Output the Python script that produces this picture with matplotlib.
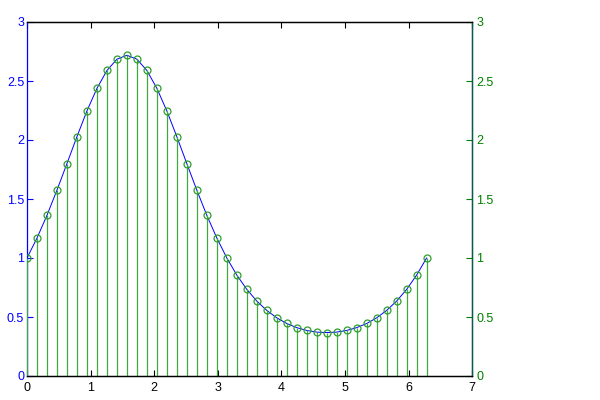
import matplotlib
matplotlib.use("Agg")
import matplotlib.pyplot as plt

plt.rcParams["font.family"] = ["Liberation Sans", "DejaVu Sans"]

# sample positions (0 .. 2*pi, 41 points) and values
x_vals = [0.000, 0.157, 0.314, 0.471, 0.628, 0.785, 0.942, 1.100, 1.257, 1.414,
          1.571, 1.728, 1.885, 2.042, 2.199, 2.356, 2.513, 2.670, 2.827, 2.985,
          3.142, 3.299, 3.456, 3.613, 3.770, 3.927, 4.084, 4.241, 4.398, 4.555,
          4.712, 4.869, 5.027, 5.184, 5.341, 5.498, 5.655, 5.812, 5.969, 6.126,
          6.283]
y_vals = [1.000, 1.169, 1.362, 1.575, 1.800, 2.028, 2.246, 2.438, 2.589, 2.685,
          2.718, 2.685, 2.589, 2.438, 2.246, 2.028, 1.800, 1.575, 1.362, 1.169,
          1.000, 0.855, 0.734, 0.635, 0.556, 0.493, 0.445, 0.410, 0.386, 0.372,
          0.368, 0.372, 0.386, 0.410, 0.445, 0.493, 0.556, 0.635, 0.734, 0.855,
          1.000]

x_ticks = [0, 1, 2, 3, 4, 5, 6, 7]
y_ticks = [0, 0.5, 1, 1.5, 2, 2.5, 3]
y_ticklabels = ["0", "0.5", "1", "1.5", "2", "2.5", "3"]

BLUE = "#0000ff"
GREEN = "#008000"

fig = plt.figure(figsize=(6, 4), dpi=100, facecolor="white")
ax1 = fig.add_axes([0.045, 0.06, 0.742, 0.885])
ax2 = ax1.twinx()

# left axis: blue line
ax1.plot(x_vals, y_vals, color=BLUE, lw=0.7, zorder=3)
ax1.set_xlim(0, 7)
ax1.set_ylim(0, 3)
ax1.set_xticks(x_ticks)
ax1.set_yticks(y_ticks)
ax1.set_yticklabels(y_ticklabels)
ax1.tick_params(axis="both", direction="in", labelsize=9, length=4, width=0.8)
ax1.tick_params(axis="x", top=True, colors="black", pad=4)
ax1.tick_params(axis="y", colors=BLUE, pad=2)
ax1.spines["left"].set_color(BLUE)
for s in ["top", "bottom"]:
    ax1.spines[s].set_color("black")

# right axis: green stems
ml, sl, bl = ax2.stem(x_vals, y_vals, basefmt=" ")
plt.setp(sl, color="#40a840", lw=0.9)
plt.setp(ml, marker="o", markersize=5, markerfacecolor="none",
         markeredgecolor="#2ca02c", markeredgewidth=0.9)
ax2.set_xlim(0, 7)
ax2.set_ylim(0, 3)
ax2.set_yticks(y_ticks)
ax2.set_yticklabels(y_ticklabels)
ax2.tick_params(axis="y", direction="in", labelsize=9, length=4, width=0.8,
                colors=GREEN, pad=3)
ax2.spines["right"].set_color("#006050")
ax2.spines["left"].set_visible(False)

for a in (ax1, ax2):
    for s in a.spines.values():
        s.set_linewidth(0.9)

fig.savefig("out.png", dpi=100)
